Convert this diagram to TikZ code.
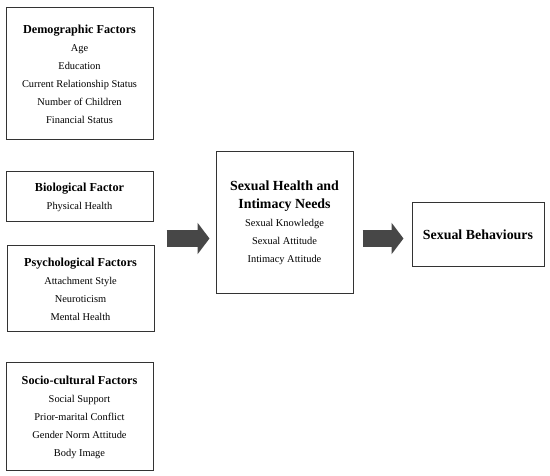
\documentclass[tikz,border=0pt]{standalone}
\usepackage{fontspec}
\setmainfont{Liberation Serif}
\usetikzlibrary{positioning,arrows.meta}

\definecolor{boxline}{HTML}{333333}
\definecolor{arrowgray}{HTML}{474747}

\tikzset{
    factorbox/.style={draw=boxline, line width=1pt, align=center, inner sep=0pt,
        font=\fontsize{10.4}{18}\selectfont},
    fatarrow/.style={arrowgray, line width=17pt, -{Triangle[length=12pt, width=31pt]}},
}
\newcommand{\headl}[1]{{\fontsize{12.2}{18}\selectfont\bfseries #1}}
\newcommand{\headr}[1]{{\fontsize{13.9}{18}\selectfont\bfseries #1}}

\begin{document}
\begin{tikzpicture}[x=1pt, y=-1pt]

            % Fix the page to the size of the reference
            \useasboundingbox (0,0) rectangle (550,476);

            % Left column: the four groups of factors
            \node[factorbox, minimum width=147pt, minimum height=132pt] (demo) at (79.5,74)
                {\headl{Demographic Factors}\\Age\\Education\\Current Relationship Status\\Number of Children\\Financial Status};
            \node[factorbox, minimum width=147pt, minimum height=50pt] (bio) at (79.5,197)
                {\headl{Biological Factor}\\Physical Health};
            \node[factorbox, minimum width=147pt, minimum height=86pt] (psych) at (80.5,289)
                {\headl{Psychological Factors}\\Attachment Style\\Neuroticism\\Mental Health};
            \node[factorbox, minimum width=147pt, minimum height=108pt] (socio) at (79.5,417)
                {\headl{Socio-cultural Factors}\\Social Support\\Prior-marital Conflict\\Gender Norm Attitude\\Body Image};

            % Middle: sexual health and intimacy needs
            \node[factorbox, minimum width=137pt, minimum height=142pt] (needs) at (284.5,223)
                {\headr{Sexual Health and}\\\headr{Intimacy Needs}\\Sexual Knowledge\\Sexual Attitude\\Intimacy Attitude};

            % Right: the outcome
            \node[factorbox, minimum width=132pt, minimum height=64pt] (behav) at (478,235)
                {\headr{Sexual Behaviours}};

            % Thick arrows between the columns
            \draw[fatarrow] ([xshift=13pt, yshift=-3.5pt]bio.east |- behav.west) -- ([xshift=-6pt, yshift=-3.5pt]needs.west |- behav.west);
            \draw[fatarrow] ([xshift=9pt, yshift=-3.5pt]needs.east |- behav.west) -- ([xshift=-8pt, yshift=-3.5pt]behav.west);
        \end{tikzpicture}
\end{document}
